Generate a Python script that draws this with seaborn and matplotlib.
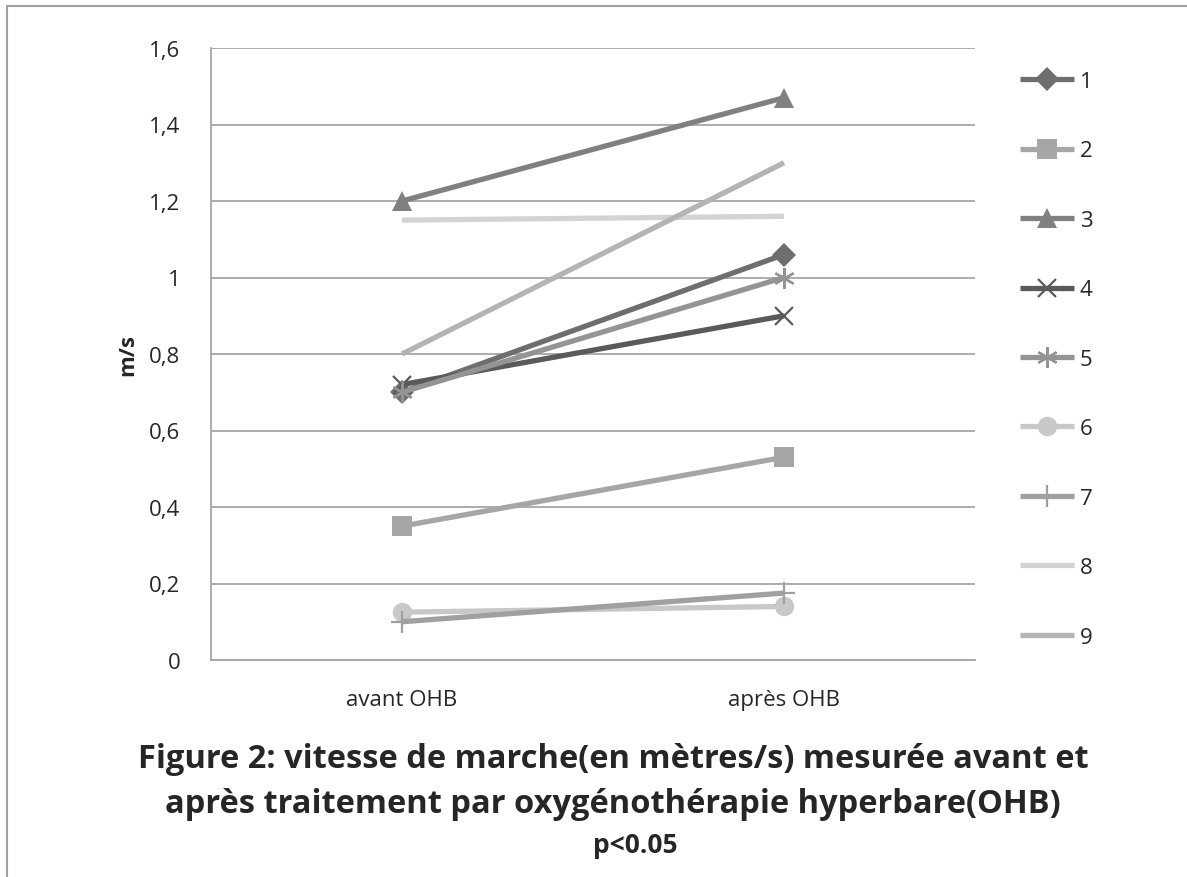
import matplotlib
matplotlib.use("Agg")
import matplotlib.pyplot as plt
from matplotlib.lines import Line2D
import pandas as pd
import seaborn as sns

# data
phases = ["avant OHB", "après OHB"]
series = ["1", "2", "3", "4", "5", "6", "7", "8", "9"]
avant = [0.70, 0.35, 1.20, 0.72, 0.70, 0.125, 0.10, 1.15, 0.80]
apres = [1.06, 0.53, 1.47, 0.90, 1.00, 0.14, 0.175, 1.16, 1.30]
colors = ["#6e6e6e", "#a6a6a6", "#808080", "#5a5a5a", "#949494",
          "#c8c8c8", "#a0a0a0", "#d3d3d3", "#b4b4b4"]
markers = ["D", "s", "^", "x", (6, 2, 0), "o", "+", None, None]
msizes = [12, 14, 15, 13, 15, 14, 16, 0, 0]

rows = []
for s, a, b in zip(series, avant, apres):
    rows.append({"serie": s, "phase": phases[0], "v": a})
    rows.append({"serie": s, "phase": phases[1], "v": b})
df = pd.DataFrame(rows)

sns.set_theme(style="white")
plt.rcParams["font.family"] = ["Open Sans", "DejaVu Sans"]
text_col = "#262626"
grid_col = "#a6a6a6"

fig = plt.figure(figsize=(11.87, 8.78), dpi=100)
ax = fig.add_axes([211 / 1187, 1 - 661 / 878, 764 / 1187, 612 / 878])

for s, c, m, ms in zip(series, colors, markers, msizes):
    sub = df[df["serie"] == s]
    kw = dict(marker=m, markersize=ms, markerfacecolor=c, markeredgecolor=c)
    if m in ("x", "+", (6, 2, 0)):
        kw["markeredgewidth"] = 1.6
    else:
        kw["markeredgewidth"] = 0
    sns.lineplot(data=sub, x="phase", y="v", color=c, linewidth=3.8,
                 ax=ax, label=s, solid_capstyle="butt", **kw)

ax.set_xlim(-0.5, 1.5)
ax.set_ylim(0, 1.6)
ax.set_yticks([0, 0.2, 0.4, 0.6, 0.8, 1.0, 1.2, 1.4, 1.6])
ax.set_yticklabels(["0", "0,2", "0,4", "0,6", "0,8", "1", "1,2", "1,4", "1,6"])
ax.yaxis.grid(True, color=grid_col, linewidth=1.3)
ax.set_axisbelow(True)
for side in ["top", "right"]:
    ax.spines[side].set_visible(False)
for side in ["left", "bottom"]:
    ax.spines[side].set_color(grid_col)
    ax.spines[side].set_linewidth(1.3)
ax.tick_params(axis="both", length=0, labelsize=16, labelcolor=text_col)
ax.tick_params(axis="y", pad=22)
ax.tick_params(axis="x", pad=21)
ax.set_xlabel("")
ax.set_ylabel("m/s", fontsize=16, fontweight="bold", color=text_col, labelpad=8)

leg = ax.legend(loc="upper left", bbox_to_anchor=(1000 / 1187, 1 - 52 / 878),
                bbox_transform=fig.transFigure, frameon=False, fontsize=16,
                handlelength=2.45, handletextpad=0.25, labelspacing=2.18,
                numpoints=1)
for t in leg.get_texts():
    t.set_color(text_col)

fig.text(613 / 1187, 1 - 760 / 878, "Figure 2: vitesse de marche(en mètres/s) mesurée avant et",
         ha="center", va="center", fontsize=23.5, fontweight="bold", color=text_col)
fig.text(613 / 1187, 1 - 805 / 878, "après traitement par oxygénothérapie hyperbare(OHB)",
         ha="center", va="center", fontsize=23.5, fontweight="bold", color=text_col)
fig.text(635 / 1187, 1 - 846 / 878, "p<0.05",
         ha="center", va="center", fontsize=19, fontweight="bold", color=text_col)

# outer frame (top and left only)
fig.add_artist(Line2D([7 / 1187, 1], [1 - 7 / 878, 1 - 7 / 878], color="#a0a0a0", linewidth=1.5))
fig.add_artist(Line2D([7 / 1187, 7 / 1187], [0, 1 - 7 / 878], color="#a0a0a0", linewidth=1.5))

fig.savefig("out.png", dpi=100)
